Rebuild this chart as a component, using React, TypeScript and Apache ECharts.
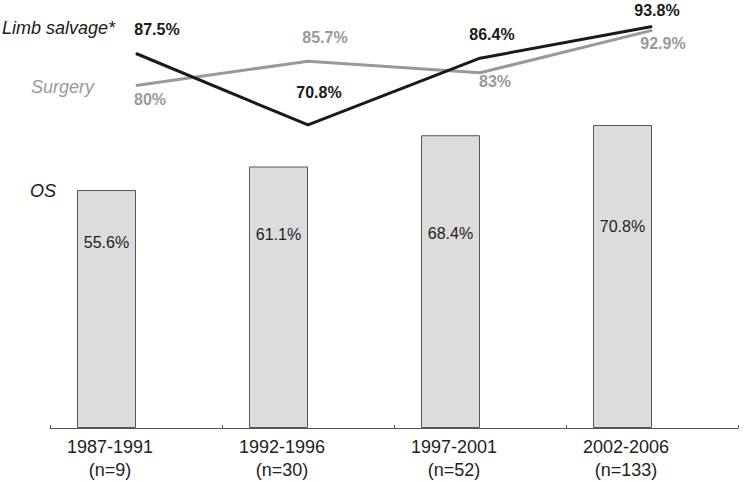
import React, { useEffect, useRef } from "react";
import * as echarts from "echarts";

const categories = ["1987-1991\n(n=9)", "1992-1996\n(n=30)", "1997-2001\n(n=52)", "2002-2006\n(n=133)"];
const osValues = [55.6, 61.1, 68.4, 70.8];
const limbSalvage = [87.5, 70.8, 86.4, 93.8];
const surgery = [80, 85.7, 83, 92.9];

// label placement (styles)
const osLabelDy = [52, 68, 98, 102];
const limbLabelOffsets = [[21, -24], [11, -32], [12, -24], [5, -16]];
const surgeryLabelOffsets = [[14, 14], [17, -24], [15, 9], [11, 13]];

const FONT = "'Liberation Sans', Arial, Helvetica, sans-serif";
const DARK = "#1a1a1a";
const GREY = "#999999";

export default function App() {
  const ref = useRef<HTMLDivElement>(null);
  useEffect(() => {
    if (!ref.current) return;
    const chart = echarts.init(ref.current, null, { renderer: "svg" });
    chart.setOption({
      animation: false,
      textStyle: { fontFamily: FONT },
      grid: { left: 50, right: 7, top: 0, bottom: 52, containLabel: false },
      xAxis: {
        type: "category",
        data: categories,
        boundaryGap: true,
        axisLine: { lineStyle: { color: "#555", width: 1 } },
        axisTick: { show: true, inside: true, length: 3, lineStyle: { color: "#555" } },
        axisLabel: {
          color: "#222",
          fontSize: 18,
          lineHeight: 23,
          margin: 7,
          fontFamily: FONT,
          padding: [0, 52, 0, 0],
        },
      },
      yAxis: {
        type: "value",
        min: 0,
        max: 100,
        show: false,
        splitLine: { show: false },
      },
      graphic: [
        { type: "text", left: 2, top: 19, style: { text: "Limb salvage*", font: `italic 18px ${FONT}`, fill: DARK } },
        { type: "text", left: 31, top: 78, style: { text: "Surgery", font: `italic 18px ${FONT}`, fill: GREY } },
        { type: "text", left: 30, top: 182, style: { text: "OS", font: `italic 18px ${FONT}`, fill: DARK } },
      ],
      series: [
        {
          type: "bar",
          barWidth: 59,
          barGap: "0%",
          data: osValues.map((v, i) => ({
            value: v,
            label: {
              show: true,
              position: ["50%", osLabelDy[i]],
              align: "center",
              verticalAlign: "middle",
              formatter: "{c}%",
              fontSize: 16,
              color: "#222",
              fontFamily: FONT,
            },
          })),
          itemStyle: { color: "#dcdcdc", borderColor: "#555", borderWidth: 1 },
          z: 1,
        },
        {
          type: "bar",
          barWidth: 59,
          barGap: "0%",
          data: osValues.map(() => "-"),
          itemStyle: { color: "transparent" },
          silent: true,
        },
        {
          type: "line",
          data: surgery.map((v, i) => ({
            value: v,
            label: {
              show: true,
              position: "inside",
              offset: surgeryLabelOffsets[i],
              formatter: "{c}%",
              fontSize: 16,
              fontWeight: "bold",
              color: GREY,
              fontFamily: FONT,
            },
          })),
          symbol: "circle",
          symbolSize: 1,
          itemStyle: { color: GREY },
          lineStyle: { color: GREY, width: 3 },
          z: 3,
        },
        {
          type: "line",
          data: limbSalvage.map((v, i) => ({
            value: v,
            label: {
              show: true,
              position: "inside",
              offset: limbLabelOffsets[i],
              formatter: "{c}%",
              fontSize: 16,
              fontWeight: "bold",
              color: DARK,
              fontFamily: FONT,
            },
          })),
          symbol: "circle",
          symbolSize: 1,
          itemStyle: { color: DARK },
          lineStyle: { color: DARK, width: 3 },
          z: 4,
        },
      ],
    });
    return () => chart.dispose();
  }, []);
  return <div ref={ref} style={{ width: 745, height: 481, position: "absolute", left: 0, top: 0 }} />;
}
